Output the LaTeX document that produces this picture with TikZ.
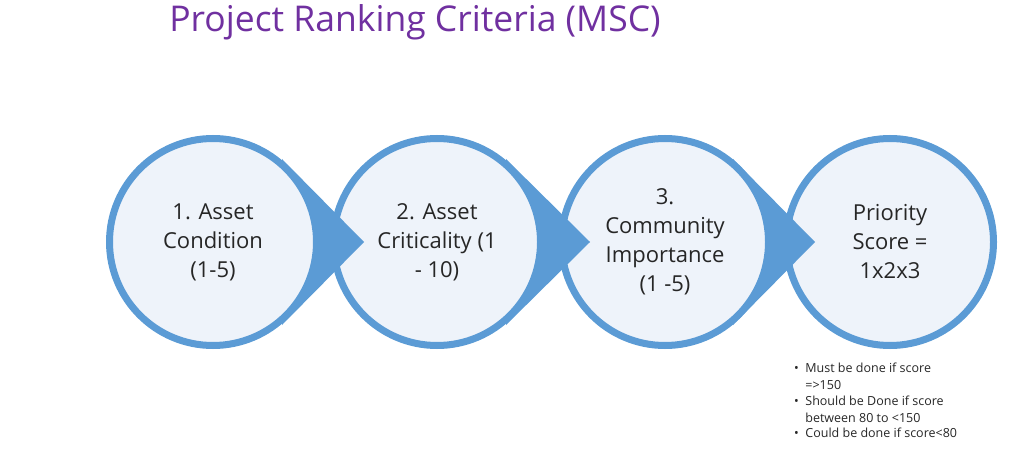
\documentclass[tikz,border=0pt]{standalone}
\usepackage{fontspec}
\setmainfont{Open Sans}
\definecolor{ring}{HTML}{5B9BD5}
\definecolor{cfill}{HTML}{EEF3FA}
\definecolor{ttl}{HTML}{7030A0}
\begin{document}
\begin{tikzpicture}[x=1pt,y=-1pt,
  circ/.style={circle,draw=ring,line width=7pt,fill=cfill,minimum size=207pt,inner sep=0pt,align=center,font=\fontsize{22}{29}\selectfont,text=black!85},
  arr/.style={fill=ring,draw=none}]
\useasboundingbox (0,0) rectangle (1024,470);
\node[font=\fontsize{35.5}{38}\selectfont,text=ttl] (title) at (415,22) {Project Ranking Criteria (MSC)};
\node[circ] (c4) at (890,242) {Priority\\Score =\\1x2x3};
\fill[arr] (733,159) -- (815,242) -- (733,325) -- cycle;
\node[circ] (c3) at (665,242) {3.\\Community\\Importance\\(1 -5)};
\fill[arr] (506,159) -- (590,242) -- (506,325) -- cycle;
\node[circ] (c2) at (437,242) {2. Asset\\Criticality (1\\- 10)};
\fill[arr] (282,159) -- (364,242) -- (282,325) -- cycle;
\node[circ] (c1) at (213,242) {1. Asset\\Condition\\(1-5)};
\node[anchor=north west,align=left,font=\fontsize{12.5}{17}\selectfont,text=black!85,inner sep=0pt] (notes) at (794,363)
{\textbullet\ \ Must be done if score\\\phantom{\textbullet\ \ }=>150\\[-1.5pt]
 \textbullet\ \ Should be Done if score\\\phantom{\textbullet\ \ }between 80 to <150\\[-1.5pt]
 \textbullet\ \ Could be done if score<80};
\end{tikzpicture}
\end{document}
